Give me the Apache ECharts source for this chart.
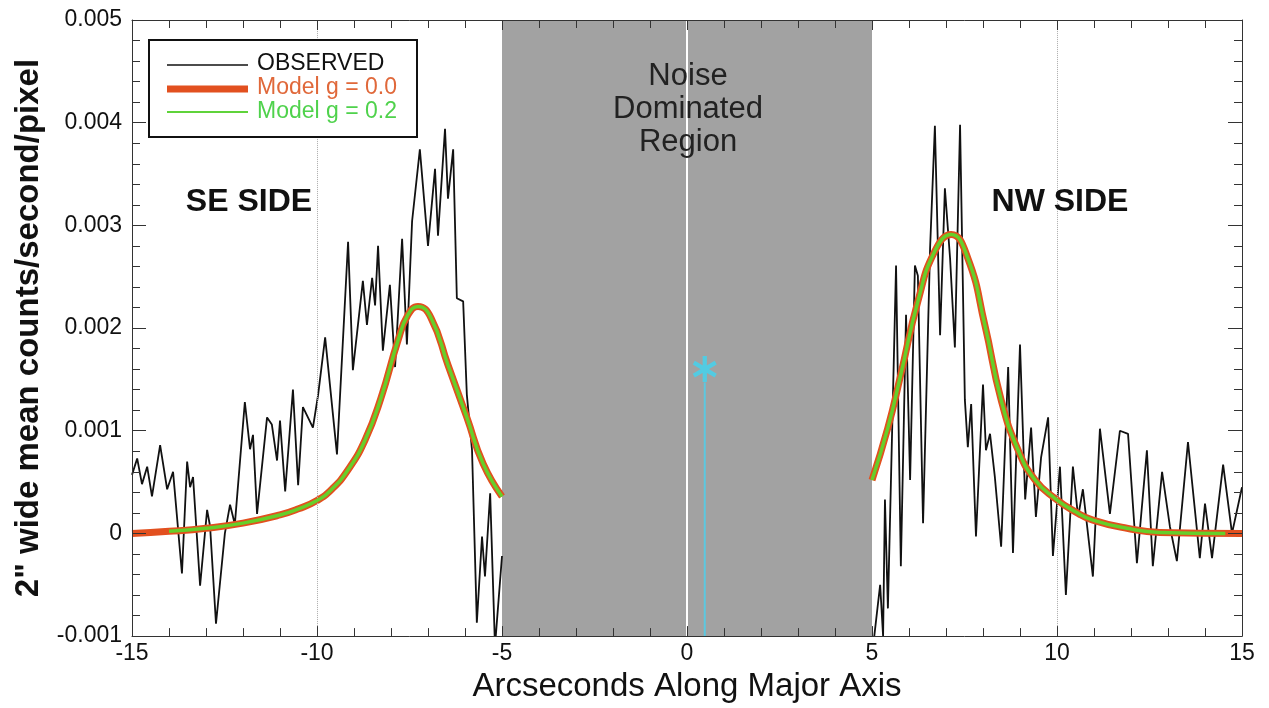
<!DOCTYPE html>
<html>
<head>
<meta charset="utf-8">
<title>Major axis profile</title>
<script src="https://cdn.jsdelivr.net/npm/echarts@6/dist/echarts.min.js"></script>
<style>
  html, body { margin: 0; padding: 0; background: #fff; }
  #chart { width: 1269px; height: 708px; }
</style>
</head>
<body>
<div id="chart"></div>
<script>
// observed profile, SE side (arcsec, counts/s/pixel)
const obsSE = [
  [-15.00, 0.00057], [-14.86, 0.00073], [-14.73, 0.00048], [-14.59, 0.00065], [-14.46, 0.00036],
  [-14.24, 0.00086], [-14.05, 0.00043], [-13.89, 0.00060], [-13.65, -0.00039], [-13.51, 0.00070],
  [-13.43, 0.00045], [-13.35, 0.00055], [-13.16, -0.00051], [-12.97, 0.00023], [-12.89, 0.00007],
  [-12.73, -0.00088], [-12.49, 0.00000], [-12.35, 0.00028], [-12.22, 0.00009], [-11.95, 0.00128],
  [-11.81, 0.00082], [-11.73, 0.00096], [-11.62, 0.00019], [-11.35, 0.00113], [-11.22, 0.00106],
  [-11.08, 0.00071], [-11.00, 0.00110], [-10.86, 0.00041], [-10.65, 0.00140], [-10.51, 0.00047],
  [-10.38, 0.00123], [-10.11, 0.00103], [-9.97, 0.00135], [-9.78, 0.00191], [-9.46, 0.00077],
  [-9.16, 0.00284], [-9.03, 0.00159], [-8.76, 0.00246], [-8.65, 0.00203], [-8.51, 0.00249],
  [-8.43, 0.00222], [-8.35, 0.00280], [-8.22, 0.00178], [-8.03, 0.00242], [-7.89, 0.00162],
  [-7.70, 0.00287], [-7.57, 0.00184], [-7.43, 0.00304], [-7.22, 0.00374], [-7.00, 0.00280],
  [-6.81, 0.00355], [-6.73, 0.00290], [-6.54, 0.00394], [-6.46, 0.00326], [-6.32, 0.00374],
  [-6.22, 0.00229], [-6.05, 0.00226], [-5.95, 0.00135], [-5.81, 0.00081], [-5.68, -0.00087],
  [-5.54, -0.00003], [-5.46, -0.00042], [-5.32, 0.00039], [-5.19, -0.00110], [-5.00, -0.00022]
];

// observed profile, NW side
const obsNW = [
  [5.03, -0.00110], [5.22, -0.00050], [5.30, -0.00100], [5.35, 0.00033], [5.43, -0.00073],
  [5.51, 0.00048], [5.65, 0.00261], [5.78, -0.00032], [5.92, 0.00213], [6.03, 0.00052],
  [6.16, 0.00261], [6.24, 0.00251], [6.38, 0.00010], [6.57, 0.00278], [6.70, 0.00397],
  [6.84, 0.00193], [6.97, 0.00336], [7.11, 0.00268], [7.24, 0.00181], [7.38, 0.00398],
  [7.51, 0.00130], [7.59, 0.00084], [7.68, 0.00126], [7.81, -0.00003], [8.00, 0.00145],
  [8.08, 0.00081], [8.19, 0.00097], [8.32, 0.00055], [8.49, -0.00013], [8.68, 0.00162],
  [8.81, -0.00019], [9.00, 0.00184], [9.14, 0.00033], [9.30, 0.00103], [9.43, 0.00016],
  [9.57, 0.00074], [9.76, 0.00113], [9.89, -0.00022], [10.08, 0.00065], [10.24, -0.00060],
  [10.43, 0.00065], [10.57, 0.00016], [10.70, 0.00043], [10.97, -0.00042], [11.16, 0.00102],
  [11.43, 0.00019], [11.70, 0.00100], [11.92, 0.00097], [12.16, -0.00029], [12.43, 0.00081],
  [12.59, -0.00032], [12.84, 0.00060], [13.05, 0.00007], [13.24, -0.00027], [13.54, 0.00089],
  [13.86, -0.00024], [14.00, 0.00029], [14.19, -0.00024], [14.49, 0.00067], [14.73, 0.00000],
  [15.00, 0.00045]
];

// model g = 0.0 (thick)
const modelSE0 = [
  [-15.0, 0.00000], [-14.0, 0.00002], [-13.0, 0.00005], [-12.0, 0.00010], [-11.0, 0.00018],
  [-10.5, 0.00024], [-10.0, 0.00032], [-9.6, 0.00043], [-9.16, 0.00062], [-8.7, 0.00091],
  [-8.27, 0.00132], [-7.81, 0.00188], [-7.54, 0.00213], [-7.27, 0.00221], [-6.92, 0.00210],
  [-6.46, 0.00164], [-5.95, 0.00113], [-5.51, 0.00068], [-5.0, 0.00036]
];
const modelNW0 = [
  [5.0, 0.00052], [5.43, 0.00103], [5.78, 0.00155], [6.24, 0.00226], [6.70, 0.00275],
  [7.14, 0.00291], [7.59, 0.00268], [8.05, 0.00203], [8.49, 0.00130], [8.95, 0.00081],
  [9.41, 0.00052], [9.95, 0.00034], [10.5, 0.00021], [10.97, 0.00013], [11.89, 0.00005],
  [12.78, 0.00001], [15.0, 0.00000]
];
// model g = 0.2 (thin) lies on top of the g = 0.0 curve
const modelSE2 = modelSE0.slice(1);
const modelNW2 = modelNW0.slice(0, -1).concat([[14.55, 0.00000]]);

// central star position
const starPos = [[0.48, 0.00160]];
const starLine = [[0.48, 0.00147], [0.48, -0.00100]];

const xTicks = { min: -15, max: 15, interval: 5 };
const yTicks = { min: -0.001, max: 0.005, interval: 0.001 };

const font = "'Liberation Sans', Helvetica, Arial, sans-serif";
const asterisk = 'path://M-2,-12L2,-12L2,12L-2,12Z' +
  'M9.39,-7.73L11.39,-4.27L-9.39,7.73L-11.39,4.27Z' +
  'M-11.39,-4.27L-9.39,-7.73L11.39,4.27L9.39,7.73Z';

let myChart = echarts.init(document.getElementById('chart'));

const tickBase = { show: true, inside: true, lineStyle: { color: '#333', width: 1 } };

function yFmt(v) {
  if (Math.abs(v) < 1e-9) return '0';
  return v.toFixed(3);
}

const modelLine = { showSymbol: false, smooth: 0.5 };

myChart.setOption({
  animation: false,
  backgroundColor: '#fff',
  grid: { left: 132, right: 27, top: 20, bottom: 68, show: false },
  xAxis: [
    {
      type: 'value', min: xTicks.min, max: xTicks.max, interval: xTicks.interval,
      position: 'bottom', z: 5,
      name: 'Arcseconds Along Major Axis', nameLocation: 'middle', nameGap: 31,
      nameTextStyle: { fontFamily: font, fontSize: 33, color: '#111' },
      axisLine: { show: true, onZero: false, lineStyle: { color: '#333', width: 1 } },
      axisTick: Object.assign({ length: 10 }, tickBase),
      minorTick: { show: true, splitNumber: 5, length: 8, lineStyle: { color: '#333' } },
      axisLabel: { fontFamily: font, fontSize: 23, color: '#111', margin: 6 },
      splitLine: { show: false }
    },
    {
      type: 'value', min: xTicks.min, max: xTicks.max, interval: xTicks.interval,
      position: 'top', z: 5,
      axisLine: { show: true, onZero: false, lineStyle: { color: '#333', width: 1 } },
      axisTick: Object.assign({ length: 10 }, tickBase),
      minorTick: { show: true, splitNumber: 5, length: 8, lineStyle: { color: '#333' } },
      axisLabel: { show: false },
      splitLine: { show: false }
    }
  ],
  yAxis: [
    {
      type: 'value', min: yTicks.min, max: yTicks.max, interval: yTicks.interval,
      position: 'left', z: 5,
      name: '2" wide mean counts/second/pixel', nameLocation: 'middle', nameGap: 84,
      nameTextStyle: { fontFamily: font, fontSize: 33, fontWeight: 'bold', color: '#111' },
      axisLine: { show: true, onZero: false, lineStyle: { color: '#333', width: 1 } },
      axisTick: Object.assign({ length: 14 }, tickBase),
      minorTick: { show: true, splitNumber: 5, length: 8, lineStyle: { color: '#333' } },
      axisLabel: { fontFamily: font, fontSize: 23, color: '#111', margin: 10, formatter: yFmt },
      splitLine: { show: false }
    },
    {
      type: 'value', min: yTicks.min, max: yTicks.max, interval: yTicks.interval,
      position: 'right', z: 5,
      axisLine: { show: true, onZero: false, lineStyle: { color: '#333', width: 1 } },
      axisTick: Object.assign({ length: 14 }, tickBase),
      minorTick: { show: true, splitNumber: 5, length: 8, lineStyle: { color: '#333' } },
      axisLabel: { show: false },
      splitLine: { show: false }
    }
  ],
  graphic: [
    { type: 'rect', left: 148, top: 39, z: 50,
      shape: { width: 268, height: 97 },
      style: { fill: '#fff', stroke: '#111', lineWidth: 2 } },
    { type: 'line', z: 51, shape: { x1: 167, y1: 65, x2: 248, y2: 65 },
      style: { stroke: '#111', lineWidth: 1.5 } },
    { type: 'line', z: 51, shape: { x1: 167, y1: 89, x2: 248, y2: 89 },
      style: { stroke: '#e2501f', lineWidth: 7 } },
    { type: 'line', z: 51, shape: { x1: 167, y1: 112, x2: 248, y2: 112 },
      style: { stroke: '#5fd33a', lineWidth: 2 } },
    { type: 'text', left: 257, top: 52, z: 51,
      style: { text: 'OBSERVED', font: '23px ' + font, fill: '#111' } },
    { type: 'text', left: 257, top: 76, z: 51,
      style: { text: 'Model g = 0.0', font: '23px ' + font, fill: '#e0683a' } },
    { type: 'text', left: 257, top: 100, z: 51,
      style: { text: 'Model g = 0.2', font: '23px ' + font, fill: '#4fd24c' } },
    { type: 'text', x: 249, y: 202, z: 51,
      style: { text: 'SE SIDE', font: 'bold 32px ' + font, fill: '#111',
               textAlign: 'center', textVerticalAlign: 'middle' } },
    { type: 'text', x: 1060, y: 202, z: 51,
      style: { text: 'NW SIDE', font: 'bold 32px ' + font, fill: '#111',
               textAlign: 'center', textVerticalAlign: 'middle' } },
    { type: 'text', x: 688, y: 109, z: 51,
      style: { text: 'Noise\nDominated\nRegion', font: '31px ' + font, fill: '#222',
               lineHeight: 33, textAlign: 'center', textVerticalAlign: 'middle' } }
  ],
  series: [
    {
      name: 'region', type: 'line', data: [], z: 1, silent: true,
      markArea: {
        silent: true,
        itemStyle: { color: '#a2a2a2' },
        data: [[{ xAxis: -5 }, { xAxis: 5 }]]
      },
      markLine: {
        silent: true, symbol: 'none', label: { show: false },
        data: [
          { xAxis: -10, lineStyle: { color: '#aaa', type: 'dotted', width: 1 } },
          { xAxis: 10, lineStyle: { color: '#aaa', type: 'dotted', width: 1 } },
          { xAxis: 0, lineStyle: { color: '#fff', type: 'solid', width: 2 } }
        ]
      }
    },
    {
      name: 'OBSERVED', type: 'line', data: obsSE, showSymbol: false, z: 3,
      lineStyle: { color: '#111', width: 1.8 }, itemStyle: { color: '#111' }
    },
    {
      name: 'OBSERVED', type: 'line', data: obsNW, showSymbol: false, z: 3,
      lineStyle: { color: '#111', width: 1.8 }, itemStyle: { color: '#111' }
    },
    Object.assign({
      name: 'Model g = 0.0', type: 'line', data: modelSE0, z: 4,
      lineStyle: { color: '#e2501f', width: 7 }, itemStyle: { color: '#e2501f' }
    }, modelLine),
    Object.assign({
      name: 'Model g = 0.0', type: 'line', data: modelNW0, z: 4,
      lineStyle: { color: '#e2501f', width: 7 }, itemStyle: { color: '#e2501f' }
    }, modelLine),
    Object.assign({
      name: 'Model g = 0.2', type: 'line', data: modelSE2, z: 5,
      lineStyle: { color: '#66cf2a', width: 3.5 }, itemStyle: { color: '#66cf2a' }
    }, modelLine),
    Object.assign({
      name: 'Model g = 0.2', type: 'line', data: modelNW2, z: 5,
      lineStyle: { color: '#66cf2a', width: 3.5 }, itemStyle: { color: '#66cf2a' }
    }, modelLine),
    {
      name: 'star line', type: 'line', data: starLine, showSymbol: false, z: 3,
      lineStyle: { color: '#5cc8e0', width: 2 }
    },
    {
      name: 'star', type: 'scatter', data: starPos, symbol: asterisk, symbolSize: [24, 26], z: 6,
      itemStyle: { color: '#3fd6f2' }
    }
  ]
});

window.onresize = function () {
  myChart.resize();
};
</script>
</body>
</html>
